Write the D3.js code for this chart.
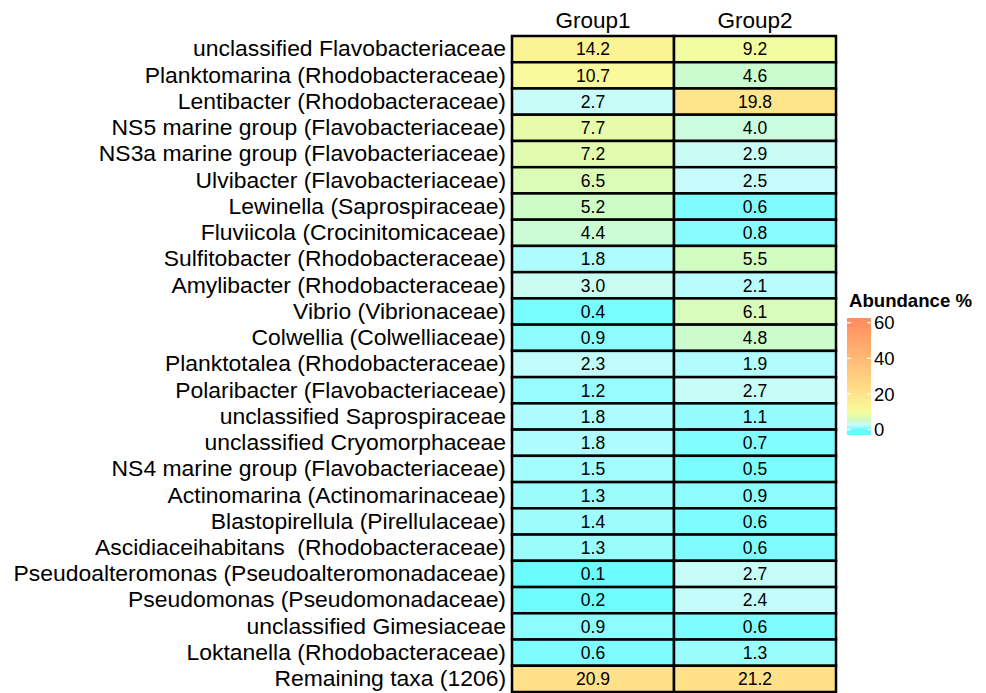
<!DOCTYPE html>
<html>
<head>
<meta charset="utf-8">
<script src="https://cdn.jsdelivr.net/npm/d3@7"></script>
<style>
  html, body { margin: 0; padding: 0; background: #fff; }
  svg { display: block; font-family: "Liberation Sans", Arial, Helvetica, sans-serif; }
  svg text { white-space: pre; }
</style>
</head>
<body>
<svg id="chart" width="986" height="693"></svg>
<script>
// Taxa (rows), groups (columns) and relative abundances (%)
const taxa = [
  "unclassified Flavobacteriaceae",
  "Planktomarina (Rhodobacteraceae)",
  "Lentibacter (Rhodobacteraceae)",
  "NS5 marine group (Flavobacteriaceae)",
  "NS3a marine group (Flavobacteriaceae)",
  "Ulvibacter (Flavobacteriaceae)",
  "Lewinella (Saprospiraceae)",
  "Fluviicola (Crocinitomicaceae)",
  "Sulfitobacter (Rhodobacteraceae)",
  "Amylibacter (Rhodobacteraceae)",
  "Vibrio (Vibrionaceae)",
  "Colwellia (Colwelliaceae)",
  "Planktotalea (Rhodobacteraceae)",
  "Polaribacter (Flavobacteriaceae)",
  "unclassified Saprospiraceae",
  "unclassified Cryomorphaceae",
  "NS4 marine group (Flavobacteriaceae)",
  "Actinomarina (Actinomarinaceae)",
  "Blastopirellula (Pirellulaceae)",
  "Ascidiaceihabitans  (Rhodobacteraceae)",
  "Pseudoalteromonas (Pseudoalteromonadaceae)",
  "Pseudomonas (Pseudomonadaceae)",
  "unclassified Gimesiaceae",
  "Loktanella (Rhodobacteraceae)",
  "Remaining taxa (1206)"
];
const groups = ["Group1", "Group2"];
const group1 = [14.2, 10.7, 2.7, 7.7, 7.2, 6.5, 5.2, 4.4, 1.8, 3.0, 0.4, 0.9, 2.3, 1.2, 1.8, 1.8, 1.5, 1.3, 1.4, 1.3, 0.1, 0.2, 0.9, 0.6, 20.9];
const group2 = [9.2, 4.6, 19.8, 4.0, 2.9, 2.5, 0.6, 0.8, 5.5, 2.1, 6.1, 4.8, 1.9, 2.7, 1.1, 0.7, 0.5, 0.9, 0.6, 0.6, 2.7, 2.4, 0.6, 1.3, 21.2];
const legendTicks = [0, 20, 40, 60];
const legendTitle = "Abundance %";

const cells = [];
taxa.forEach((t, i) => {
  cells.push({ taxon: t, group: groups[0], value: group1[i] });
  cells.push({ taxon: t, group: groups[1], value: group2[i] });
});

const svg = d3.select("#chart");

const x = d3.scaleBand().domain(groups).range([512, 836]);
const y = d3.scaleBand().domain(taxa).range([36, 692]);

// Colour ramp: cyan -> pale green -> yellow -> orange
const color = d3.scaleLinear()
  .domain([0, 1, 2.5, 5, 7, 10, 20, 60])
  .range(["#66fcff", "#90fcff", "#c8fcfc", "#ccfcc8", "#e0fcb0", "#f8fc9c", "#fee38a", "#ff9060"])
  .clamp(true);

// Heatmap cells
svg.append("g").selectAll("rect")
  .data(cells)
  .join("rect")
  .attr("x", d => x(d.group))
  .attr("y", d => y(d.taxon))
  .attr("width", x.bandwidth())
  .attr("height", y.bandwidth())
  .attr("fill", d => color(d.value))
  .attr("stroke", "#000")
  .attr("stroke-width", 2.5);

// Value labels
svg.append("g").selectAll("text")
  .data(cells)
  .join("text")
  .attr("x", d => x(d.group) + x.bandwidth() / 2)
  .attr("y", d => y(d.taxon) + y.bandwidth() / 2)
  .attr("dy", "0.36em")
  .attr("text-anchor", "middle")
  .attr("font-size", 17.5)
  .attr("fill", "#000")
  .text(d => d.value.toFixed(1));

// Row labels
const yAxis = svg.append("g")
  .attr("transform", "translate(512,0)")
  .call(d3.axisLeft(y).tickSize(0).tickPadding(6));
yAxis.select(".domain").remove();
yAxis.selectAll("text")
  .attr("font-size", 22.9)
  .attr("font-family", "Liberation Sans, Arial, sans-serif")
  .attr("fill", "#000");

// Column labels
const xAxis = svg.append("g")
  .attr("transform", "translate(0,36)")
  .call(d3.axisTop(x).tickSize(0).tickPadding(8));
xAxis.select(".domain").remove();
xAxis.selectAll("text")
  .attr("font-size", 22.5)
  .attr("font-family", "Liberation Sans, Arial, sans-serif")
  .attr("fill", "#000");

// Colour legend
const lg = { x: 847, w: 24, top: 318, bottom: 435 };
const ly = d3.scaleLinear().domain([0, 60]).range([429.5, 322.7]);
const defs = svg.append("defs");
const grad = defs.append("linearGradient")
  .attr("id", "abund-grad")
  .attr("x1", 0).attr("x2", 0)
  .attr("y1", 1).attr("y2", 0);
const vTop = ly.invert(lg.top), vBot = ly.invert(lg.bottom);
d3.range(0, 61, 0.5).forEach(v => {
  grad.append("stop")
    .attr("offset", (v - vBot) / (vTop - vBot))
    .attr("stop-color", color(v));
});
grad.append("stop").attr("offset", 1).attr("stop-color", color(60));
svg.append("rect")
  .attr("x", lg.x).attr("y", lg.top)
  .attr("width", lg.w).attr("height", lg.bottom - lg.top)
  .attr("fill", "url(#abund-grad)");

const lt = svg.append("g");
lt.selectAll("line.l")
  .data(legendTicks).join("line")
  .attr("x1", lg.x).attr("x2", lg.x + 4)
  .attr("y1", d => ly(d)).attr("y2", d => ly(d))
  .attr("stroke", "#fff").attr("stroke-width", 1.2);
lt.selectAll("line.r")
  .data(legendTicks).join("line")
  .attr("x1", lg.x + lg.w - 4).attr("x2", lg.x + lg.w)
  .attr("y1", d => ly(d)).attr("y2", d => ly(d))
  .attr("stroke", "#fff").attr("stroke-width", 1.2);
lt.selectAll("text")
  .data(legendTicks).join("text")
  .attr("x", lg.x + lg.w + 3)
  .attr("y", d => ly(d))
  .attr("dy", "0.36em")
  .attr("font-size", 18.5)
  .attr("fill", "#000")
  .text(d => d);

svg.append("text")
  .attr("x", 849).attr("y", 307)
  .attr("font-size", 18.6)
  .attr("font-weight", "bold")
  .attr("fill", "#000")
  .text(legendTitle);
</script>
</body>
</html>
